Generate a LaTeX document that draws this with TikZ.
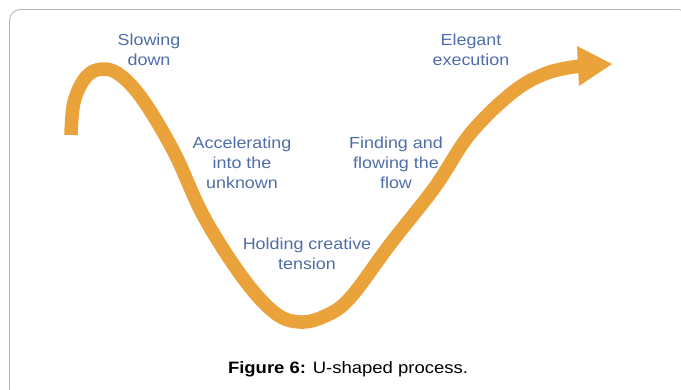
\documentclass[tikz,border=0pt]{standalone}
\usepackage{fontspec}
\setmainfont{Liberation Sans}
\begin{document}
\begin{tikzpicture}[x=1pt,y=-1pt,
  lbl/.style={text=labelblue,font=\fontsize{16}{20}\selectfont,align=center,inner sep=0pt,xscale=1.12},
  flow/.style={draw=flowor,line width=13.5pt,line cap=butt,line join=round}]
\definecolor{labelblue}{HTML}{4F6DA8}
\definecolor{flowor}{HTML}{EAA33A}
\definecolor{framegray}{HTML}{B4B4B4}
\useasboundingbox (0,0) rectangle (681,390);
\draw[framegray,line width=0.9pt,rounded corners=11pt] (9.5,9.5) -- (689,9.5) -- (689,400) -- (9.5,400) -- cycle;
\draw[flow] plot[smooth,tension=0.6] coordinates {(71,135) (74,102) (86,77) (102,69) (120,75) (143,100) (174,152) (204,217) (243,278) (275,313) (300,322) (325,316) (350,298) (391,243) (435,187) (470,134) (513,92) (547,73) (580,66)};
\fill[flowor] (577,46) -- (612,64) -- (579,86) -- cycle;
\node[lbl] (slow) at (149,50) {Slowing\\down};
\node[lbl] (eleg) at (471,50) {Elegant\\execution};
\node[lbl] (acc) at (242,163) {Accelerating\\into the\\unknown};
\node[lbl] (find) at (396,163) {Finding and\\flowing the\\flow};
\node[lbl] (hold) at (307,254) {Holding creative\\tension};
\node[font=\fontsize{16.5}{20}\selectfont,inner sep=0pt,xscale=1.12] (cap) at (348,369) {\textbf{Figure 6:} U-shaped process.};
\end{tikzpicture}
\end{document}
